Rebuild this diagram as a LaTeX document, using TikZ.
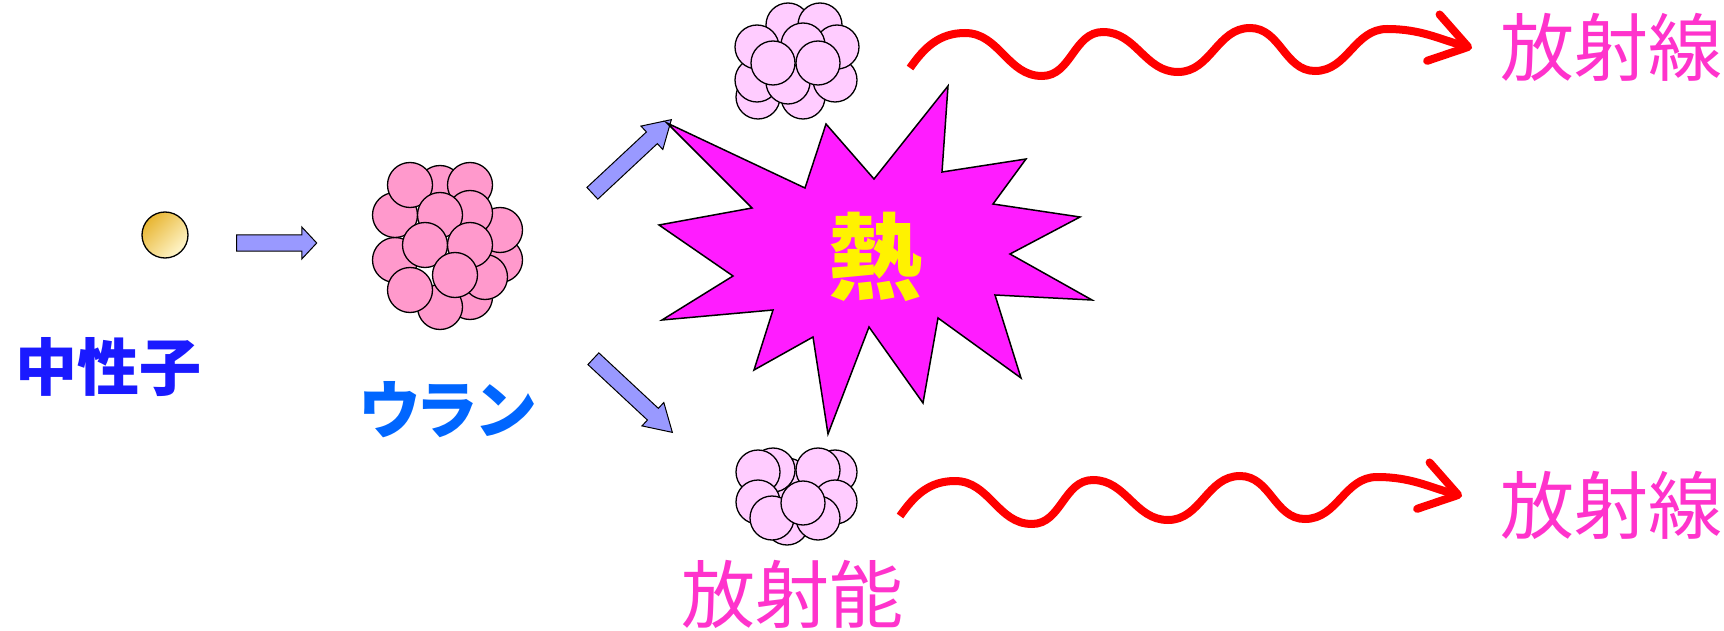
\documentclass[tikz,border=0pt]{standalone}
\usepackage{fontspec}
\usepackage{tikz}
\usetikzlibrary{calc, shapes.arrows, arrows.meta}
\newfontfamily\jpfont{Noto Sans CJK JP}
\newfontfamily\jpprop[RawFeature=+palt]{Noto Sans CJK JP}

\definecolor{neutronhi}{RGB}{232,182,50}
\definecolor{neutronlo}{RGB}{255,246,205}
\definecolor{uraniumpink}{RGB}{255,153,204}
\definecolor{fragpink}{RGB}{255,204,255}
\definecolor{arrowblue}{RGB}{153,153,255}
\definecolor{burstpink}{RGB}{255,28,255}
\definecolor{navyblue}{RGB}{26,26,255}
\definecolor{skyblue}{RGB}{0,102,255}
\definecolor{labelpink}{RGB}{255,51,204}

\tikzstyle{uranium} = [draw=black, line width=1.3pt, fill=uraniumpink]
\tikzstyle{fragment} = [draw=black, line width=1.3pt, fill=fragpink]
\tikzstyle{fatarrow} = [single arrow, draw=black, line width=1pt, fill=arrowblue, inner sep=0pt, text height=7.5pt, text depth=7.5pt, single arrow head extend=8pt]
\tikzstyle{burst} = [draw=black, line width=1.5pt, fill=burstpink, line join=miter]
\tikzstyle{ray} = [red, line width=8pt, -{Straight Barb[length=36pt, width=48pt, round]}]
\tikzstyle{radlabel} = [text=labelpink, font=\jpfont\fontsize{74}{80}\selectfont, inner sep=0pt]

\begin{document}
\begin{tikzpicture}[x=1pt, y=1pt]
        \useasboundingbox (0,0) rectangle (1724,-631);

        % neutron and its label
        \draw[line width=1.3pt, top color=neutronhi, bottom color=neutronlo, shading angle=45] (165,-235) circle (23);
        \node[text=navyblue, font=\jpfont\bfseries\fontsize{62}{66}\selectfont, inner sep=0pt] (neutron) at (109,-367) {中性子};
        \node[fatarrow, minimum height=80pt, single arrow tip angle=94] (shot) at (273,-243) {};

        % uranium nucleus
        \foreach \x/\y in {440/188, 500/260, 470/297, 440/307, 500/230, 395/260, 395/215, 410/185, 470/185,
                           470/213, 440/215, 485/277, 425/245, 470/245, 410/290, 455/275}
            \filldraw[uranium] (\x,-\y) circle (22.5);
        \node[text=skyblue, font=\jpprop\bfseries\fontsize{63}{68}\selectfont, inner sep=0pt] (uranium) at (447,-410) {ウラン};

        \node[fatarrow, minimum height=108pt, single arrow tip angle=62, rotate=43] (splitUp) at (627,-161) {};
        \node[fatarrow, minimum height=108pt, single arrow tip angle=62, rotate=-43] (splitDown) at (628,-391) {};

        % fission fragments
        \foreach \x/\y in {758/97, 803/97, 757/80, 835/80, 788/82, 788/25, 820/25, 757/47, 837/47, 803/45, 773/63, 818/63}
            \filldraw[fragment] (\x,-\y) circle (22);
        \foreach \x/\y in {787/480, 787/523, 773/470, 835/472, 758/472, 818/470, 758/502, 835/502, 772/518, 818/518, 803/503}
            \filldraw[fragment] (\x,-\y) circle (22);
        \node[radlabel] (activity) at (792,-594) {放射能};

        % heat burst
        \draw[burst] (667,-123) -- (805,-188) -- (826,-124) -- (874,-179) -- (948,-86) -- (942,-172)
            -- (1026,-159) -- (993,-204) -- (1080,-217) -- (1010,-254) -- (1092,-300) -- (995,-295)
            -- (1021,-378) -- (938,-318) -- (923,-403) -- (869,-327) -- (828,-434) -- (813,-337)
            -- (754,-370) -- (773,-310) -- (662,-320) -- (733,-276) -- (659,-225) -- (752,-208) -- cycle;
        \node[text=yellow, font=\jpfont\bfseries\fontsize{94}{98}\selectfont, inner sep=0pt] (heat) at (875,-257) {熱};

        % radiation waves
        \node[radlabel] (rayTop) at (1611,-47) {放射線};
        \node[radlabel] (rayBottom) at (1611,-505) {放射線};
        \foreach \dx/\dy in {0/0, -10/-448} {
            \begin{scope}[shift={(\dx,\dy)}]
                \draw[ray] (910,-68) to[out=55,in=180] (965,-33) to[out=0,in=180] (1042,-76)
                    to[out=0,in=180] (1103,-32) to[out=0,in=180] (1178,-72) to[out=0,in=180] (1250,-28)
                    to[out=0,in=180] (1315,-71) to[out=0,in=180] (1387,-29) to[out=0,in=165] (1472,-48);
            \end{scope}
        }
    \end{tikzpicture}
\end{document}
